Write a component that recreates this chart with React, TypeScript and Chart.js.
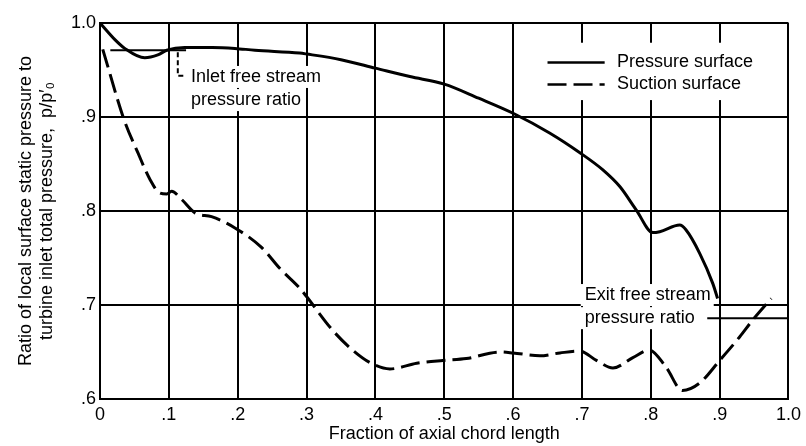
import React, { useEffect, useRef } from "react";
import { Chart, registerables } from "chart.js";

Chart.register(...registerables);

// ---- data ----
const xTickLabels = ["0", ".1", ".2", ".3", ".4", ".5", ".6", ".7", ".8", ".9", "1.0"];
const yTickLabels = [".6", ".7", ".8", ".9", "1.0"];
const seriesLabels = ["Pressure surface", "Suction surface"];

const pressureX = [0, 0.022, 0.036, 0.065, 0.084, 0.097, 0.123, 0.163, 0.196, 0.225, 0.29, 0.3, 0.35, 0.4, 0.45, 0.5, 0.55, 0.6, 0.653, 0.697, 0.73, 0.755, 0.779, 0.803, 0.813, 0.842, 0.851, 0.871, 0.89, 0.897];
const pressureY = [1.0, 0.982, 0.973, 0.963, 0.966, 0.971, 0.974, 0.974, 0.973, 0.971, 0.968, 0.967, 0.961, 0.952, 0.943, 0.935, 0.92, 0.904, 0.883, 0.862, 0.844, 0.826, 0.801, 0.777, 0.778, 0.785, 0.78, 0.755, 0.723, 0.707];

const suctionX = [0.004, 0.035, 0.055, 0.073, 0.087, 0.097, 0.104, 0.119, 0.138, 0.162, 0.196, 0.235, 0.261, 0.29, 0.3, 0.338, 0.367, 0.394, 0.421, 0.46, 0.498, 0.532, 0.581, 0.6, 0.639, 0.668, 0.697, 0.721, 0.745, 0.774, 0.798, 0.822, 0.846, 0.871, 0.9, 0.929, 0.948, 0.975];
const suctionY = [0.972, 0.897, 0.862, 0.833, 0.819, 0.818, 0.821, 0.812, 0.798, 0.794, 0.782, 0.761, 0.739, 0.718, 0.709, 0.673, 0.652, 0.638, 0.632, 0.638, 0.641, 0.643, 0.65, 0.649, 0.646, 0.649, 0.651, 0.641, 0.633, 0.644, 0.652, 0.634, 0.609, 0.617, 0.641, 0.666, 0.684, 0.707];

const inletRatioX = [0.015, 0.125];
const inletRatioY = [0.971, 0.971];
const inletLeaderX = [0.113, 0.113, 0.124];
const inletLeaderY = [0.969, 0.944, 0.944];
const exitRatioX = [0.882, 1.0];
const exitRatioY = [0.686, 0.686];

const inletText = ["Inlet free stream", "pressure ratio"];
const exitText = ["Exit free stream", "pressure ratio"];

const FONT_FAMILY = '"Liberation Sans", Arial, sans-serif';
const FONT = `18px ${FONT_FAMILY}`;

const pts = (xs: number[], ys: number[]) => xs.map((x, i) => ({ x, y: ys[i] }));

const decorPlugin = {
  id: "decor",
  beforeDatasetsDraw(chart: any) {
    const { ctx, scales } = chart;
    const xs = scales.x;
    const ys = scales.y;
    ctx.save();
    ctx.fillStyle = "#fff";
    // legend background
    const lx0 = xs.getPixelForValue(0.647);
    const lx1 = xs.getPixelForValue(0.993);
    const ly0 = ys.getPixelForValue(0.979);
    const ly1 = ys.getPixelForValue(0.918);
    ctx.fillRect(lx0, ly0, lx1 - lx0, ly1 - ly0);
    ctx.font = FONT;
    const boxes = (lines: string[], x0: number, yv: number[]) => {
      lines.forEach((t, i) => {
        const px = xs.getPixelForValue(x0);
        const py = ys.getPixelForValue(yv[i]);
        const w = ctx.measureText(t).width;
        ctx.fillRect(px - 4, py - 11, w + 7, 22);
      });
    };
    boxes(inletText, 0.132, [0.9426, 0.918]);
    boxes(exitText, 0.704, [0.7106, 0.686]);
    ctx.restore();
  },
  afterDatasetsDraw(chart: any) {
    const { ctx, scales } = chart;
    const xs = scales.x;
    const ys = scales.y;
    ctx.save();
    ctx.fillStyle = "#000";
    ctx.font = FONT;
    ctx.textBaseline = "middle";
    ctx.textAlign = "left";
    const write = (lines: string[], x0: number, yv: number[]) => {
      lines.forEach((t, i) => {
        ctx.fillText(t, xs.getPixelForValue(x0), ys.getPixelForValue(yv[i]));
      });
    };
    write(inletText, 0.132, [0.9426, 0.918]);
    write(exitText, 0.704, [0.7106, 0.686]);

    // legend
    const ds = chart.data.datasets;
    const legendY = [0.959, 0.935];
    [0, 1].forEach((k) => {
      const py = Math.round(ys.getPixelForValue(legendY[k])) + 0.5;
      const x0 = xs.getPixelForValue(0.65);
      const x1 = xs.getPixelForValue(0.733);
      ctx.strokeStyle = "#000";
      ctx.lineWidth = 2.5;
      ctx.setLineDash(ds[k].borderDash || []);
      ctx.beginPath();
      ctx.moveTo(x0, py);
      ctx.lineTo(x1, py);
      ctx.stroke();
      ctx.setLineDash([]);
      ctx.fillText(ds[k].label, xs.getPixelForValue(0.751), py);
    });
    ctx.restore();
  },
};

export default function App() {
  const ref = useRef<HTMLCanvasElement | null>(null);

  useEffect(() => {
    if (!ref.current) return;
    const chart = new Chart(ref.current, {
      type: "scatter",
      data: {
        datasets: [
          {
            label: seriesLabels[0],
            data: pts(pressureX, pressureY),
            showLine: true,
            borderColor: "#000",
            borderWidth: 3,
            pointRadius: 0,
            cubicInterpolationMode: "monotone",
          },
          {
            label: seriesLabels[1],
            data: pts(suctionX, suctionY),
            showLine: true,
            borderColor: "#000",
            borderWidth: 3,
            borderDash: [19, 7],
            pointRadius: 0,
            cubicInterpolationMode: "monotone",
          },
          {
            label: "inlet",
            data: pts(inletRatioX, inletRatioY),
            showLine: true,
            borderColor: "#000",
            borderWidth: 2,
            pointRadius: 0,
          },
          {
            label: "inlet leader",
            data: pts(inletLeaderX, inletLeaderY),
            showLine: true,
            borderColor: "#000",
            borderWidth: 2,
            borderDash: [5, 3],
            pointRadius: 0,
          },
          {
            label: "exit",
            data: pts(exitRatioX, exitRatioY),
            showLine: true,
            borderColor: "#000",
            borderWidth: 2,
            pointRadius: 0,
          },
        ],
      },
      options: {
        animation: false,
        responsive: false,
        maintainAspectRatio: false,
        layout: { padding: { left: 0, top: 23, right: 17, bottom: 0 } },
        plugins: {
          legend: { display: false },
          tooltip: { enabled: false },
        },
        scales: {
          x: {
            type: "linear",
            min: 0,
            max: 1,
            afterFit: (s: any) => {
              s.height = 47;
            },
            ticks: {
              stepSize: 0.1,
              autoSkip: false,
              maxRotation: 0,
              padding: 5,
              color: "#000",
              font: { family: FONT_FAMILY, size: 18 },
              callback: (_v: any, i: number) => xTickLabels[i],
            },
            grid: { color: "#000", lineWidth: 2, drawTicks: false },
            border: { color: "#000", width: 2 },
            title: {
              display: true,
              text: "Fraction of axial chord length",
              color: "#000",
              font: { family: FONT_FAMILY, size: 18 },
              padding: { top: 0, bottom: 1 },
            },
          },
          y: {
            type: "linear",
            min: 0.6,
            max: 1.0,
            afterFit: (s: any) => {
              s.width = 100;
            },
            ticks: {
              stepSize: 0.1,
              padding: 4,
              color: "#000",
              font: { family: FONT_FAMILY, size: 18 },
              callback: (_v: any, i: number) => yTickLabels[i],
            },
            grid: { color: "#000", lineWidth: 2, drawTicks: false },
            border: { color: "#000", width: 2 },
            title: {
              display: true,
              text: ["Ratio of local surface static pressure to", "turbine inlet total pressure,  p/p\u2032\u2080"],
              color: "#000",
              font: { family: FONT_FAMILY, size: 18, lineHeight: 1.2 },
              padding: { top: 15, bottom: 0 },
            },
          },
        },
      },
      plugins: [decorPlugin],
    } as any);
    return () => chart.destroy();
  }, []);

  return (
    <div style={{ position: "fixed", left: 0, top: 0, width: 806, height: 446, background: "#fff" }}>
      <canvas ref={ref} width={806} height={446} style={{ width: 806, height: 446, display: "block" }} />
    </div>
  );
}
